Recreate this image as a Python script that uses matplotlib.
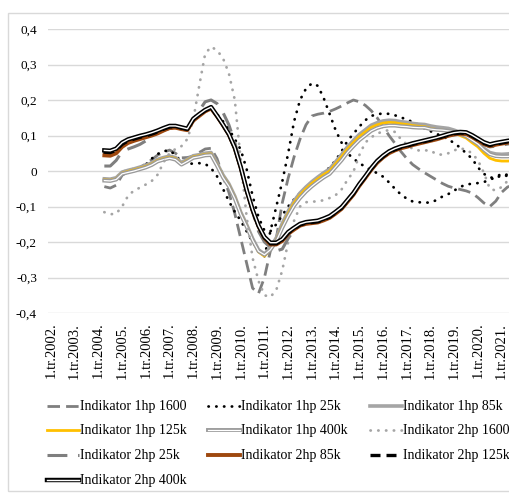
import matplotlib
matplotlib.use("Agg")
import matplotlib.pyplot as plt
from matplotlib.lines import Line2D
from matplotlib.patches import Rectangle

plt.rcParams['font.family'] = ['Liberation Serif', 'DejaVu Serif']

W, H = 510, 494

# quarterly categories 1.tr.2002 .. 3.tr.2021, series start in 2.tr.2004
years = list(range(2002, 2022))
n_quarters = 79
first_obs = 9
tick_labels = [f"1.tr.{y}." for y in years]

ind_1hp_1600 = [
    -0.044, -0.048, -0.040, -0.012, -0.002, 0.004, 0.010, 0.020, 0.032, 0.045,
    0.053, 0.059, 0.050, 0.037, 0.038, 0.042, 0.052, 0.062, 0.064, 0.035,
    -0.015, -0.060, -0.120, -0.190, -0.260, -0.330, -0.345, -0.300, -0.225, -0.190,
    -0.090, -0.020, 0.040, 0.090, 0.130, 0.155, 0.160, 0.163, 0.168, 0.175,
    0.183, 0.192, 0.200, 0.195, 0.185, 0.170, 0.150, 0.125, 0.100, 0.078,
    0.055, 0.035, 0.018, 0.006, -0.005, -0.015, -0.025, -0.035, -0.043, -0.048,
    -0.052, -0.056, -0.062, -0.075, -0.090, -0.100, -0.085, -0.060, -0.045, -0.040]
ind_1hp_25k = [
    -0.022, -0.024, -0.020, -0.003, 0.002, 0.006, 0.010, 0.018, 0.035, 0.048,
    0.056, 0.058, 0.045, 0.025, 0.020, 0.021, 0.022, 0.020, 0.008, -0.015,
    -0.050, -0.085, -0.115, -0.140, -0.170, -0.200, -0.222, -0.240, -0.170, -0.100,
    -0.030, 0.050, 0.140, 0.200, 0.232, 0.247, 0.240, 0.205, 0.160, 0.115,
    0.080, 0.050, 0.035, 0.022, 0.012, 0.002, -0.006, -0.016, -0.032, -0.050,
    -0.066, -0.078, -0.086, -0.088, -0.089, -0.089, -0.082, -0.072, -0.065, -0.055,
    -0.045, -0.038, -0.036, -0.034, -0.031, -0.025, -0.017, -0.008, -0.015, -0.030]
ind_1hp_25k_b = [
    0.050, 0.049, 0.055, 0.072, 0.082, 0.087, 0.092, 0.096, 0.101, 0.107,
    0.115, 0.121, 0.122, 0.118, 0.114, 0.140, 0.155, 0.168, 0.176, 0.160,
    0.140, 0.118, 0.090, 0.060, 0.005, -0.070, -0.130, -0.168, -0.170, -0.150,
    -0.125, -0.100, -0.080, -0.062, -0.048, -0.035, -0.020, -0.005, 0.010, 0.030,
    0.055, 0.085, 0.105, 0.125, 0.143, 0.155, 0.160, 0.162, 0.161, 0.157,
    0.151, 0.145, 0.138, 0.130, 0.120, 0.112, 0.105, 0.097, 0.090, 0.078,
    0.066, 0.050, 0.035, 0.010, -0.008, -0.018, -0.020, -0.012, -0.010, -0.030]
ind_1hp_85k = [
    -0.022, -0.023, -0.019, -0.003, 0.002, 0.006, 0.011, 0.016, 0.023, 0.033,
    0.038, 0.042, 0.038, 0.024, 0.033, 0.043, 0.046, 0.050, 0.052, 0.022,
    -0.011, -0.036, -0.071, -0.116, -0.151, -0.190, -0.222, -0.234, -0.216, -0.188,
    -0.148, -0.113, -0.084, -0.062, -0.045, -0.030, -0.017, -0.005, 0.006, 0.026,
    0.046, 0.068, 0.086, 0.103, 0.116, 0.129, 0.136, 0.141, 0.143, 0.142,
    0.139, 0.137, 0.134, 0.132, 0.131, 0.127, 0.124, 0.122, 0.120, 0.115,
    0.109, 0.103, 0.091, 0.080, 0.064, 0.052, 0.048, 0.047, 0.048, 0.050]
ind_1hp_125k = [
    -0.025, -0.026, -0.022, -0.006, -0.001, 0.003, 0.008, 0.013, 0.020, 0.030,
    0.035, 0.039, 0.035, 0.020, 0.030, 0.040, 0.043, 0.047, 0.048, 0.018,
    -0.015, -0.040, -0.075, -0.120, -0.155, -0.195, -0.228, -0.240, -0.222, -0.195,
    -0.155, -0.120, -0.090, -0.068, -0.050, -0.035, -0.022, -0.010, 0.000, 0.020,
    0.040, 0.062, 0.080, 0.097, 0.110, 0.123, 0.130, 0.135, 0.137, 0.136,
    0.133, 0.131, 0.128, 0.126, 0.125, 0.120, 0.117, 0.115, 0.112, 0.107,
    0.100, 0.093, 0.080, 0.068, 0.050, 0.036, 0.030, 0.028, 0.028, 0.029]
ind_1hp_400k = [
    -0.027, -0.028, -0.024, -0.008, -0.004, 0.000, 0.005, 0.010, 0.017, 0.027,
    0.032, 0.036, 0.032, 0.018, 0.027, 0.037, 0.040, 0.044, 0.045, 0.015,
    -0.018, -0.043, -0.078, -0.122, -0.157, -0.195, -0.226, -0.236, -0.222, -0.198,
    -0.160, -0.127, -0.098, -0.076, -0.058, -0.043, -0.030, -0.018, -0.008, 0.011,
    0.030, 0.052, 0.070, 0.087, 0.100, 0.113, 0.121, 0.126, 0.128, 0.128,
    0.126, 0.125, 0.123, 0.122, 0.122, 0.118, 0.116, 0.115, 0.113, 0.110,
    0.104, 0.098, 0.087, 0.076, 0.060, 0.047, 0.042, 0.041, 0.041, 0.042]
ind_2hp_1600 = [
    -0.116, -0.122, -0.120, -0.100, -0.070, -0.055, -0.047, -0.038, -0.028, -0.010,
    0.025, 0.050, 0.062, 0.070, 0.090, 0.145, 0.240, 0.330, 0.350, 0.340,
    0.318, 0.275, 0.200, 0.030, -0.130, -0.245, -0.310, -0.350, -0.355, -0.335,
    -0.280, -0.200, -0.140, -0.100, -0.088, -0.086, -0.086, -0.082, -0.076, -0.068,
    -0.052, -0.025, -0.002, 0.045, 0.080, 0.095, 0.105, 0.112, 0.115, 0.110,
    0.090, 0.075, 0.062, 0.058, 0.058, 0.058, 0.047, 0.046, 0.050, 0.058,
    0.064, 0.060, 0.050, 0.030, -0.005, -0.050, -0.055, -0.045, -0.028, -0.020]
ind_2hp_25k = [
    0.014, 0.014, 0.030, 0.055, 0.062, 0.068, 0.075, 0.085, 0.098, 0.108,
    0.115, 0.120, 0.122, 0.118, 0.120, 0.145, 0.170, 0.195, 0.200, 0.190,
    0.165, 0.130, 0.080, 0.020, -0.050, -0.115, -0.170, -0.200, -0.215, -0.225,
    -0.220, -0.190, -0.165, -0.153, -0.147, -0.144, -0.141, -0.135, -0.127, -0.115,
    -0.100, -0.080, -0.060, -0.035, -0.013, 0.010, 0.030, 0.045, 0.056, 0.063,
    0.068, 0.072, 0.076, 0.080, 0.084, 0.088, 0.092, 0.097, 0.100, 0.102,
    0.104, 0.102, 0.095, 0.085, 0.075, 0.068, 0.070, 0.073, 0.076, 0.078]
ind_2hp_85k = [
    0.044, 0.043, 0.050, 0.068, 0.079, 0.085, 0.090, 0.095, 0.100, 0.106,
    0.114, 0.121, 0.122, 0.118, 0.115, 0.142, 0.155, 0.168, 0.176, 0.154,
    0.129, 0.102, 0.064, 0.009, -0.056, -0.111, -0.156, -0.189, -0.207, -0.207,
    -0.197, -0.177, -0.165, -0.154, -0.149, -0.147, -0.145, -0.139, -0.132, -0.120,
    -0.107, -0.087, -0.067, -0.042, -0.020, 0.003, 0.023, 0.038, 0.050, 0.058,
    0.064, 0.068, 0.073, 0.077, 0.081, 0.085, 0.089, 0.094, 0.099, 0.103,
    0.105, 0.104, 0.096, 0.086, 0.076, 0.070, 0.074, 0.077, 0.080, 0.082]
ind_2hp_125k = [
    0.053, 0.052, 0.058, 0.075, 0.085, 0.090, 0.095, 0.099, 0.104, 0.110,
    0.118, 0.124, 0.125, 0.121, 0.117, 0.145, 0.158, 0.170, 0.178, 0.155,
    0.130, 0.103, 0.065, 0.010, -0.055, -0.110, -0.155, -0.188, -0.205, -0.205,
    -0.195, -0.175, -0.163, -0.152, -0.147, -0.145, -0.143, -0.137, -0.130, -0.118,
    -0.105, -0.085, -0.065, -0.040, -0.018, 0.005, 0.025, 0.040, 0.052, 0.060,
    0.066, 0.070, 0.075, 0.079, 0.083, 0.087, 0.091, 0.096, 0.101, 0.105,
    0.107, 0.106, 0.098, 0.088, 0.078, 0.072, 0.076, 0.079, 0.082, 0.084]
ind_2hp_400k = [
    0.058, 0.057, 0.063, 0.080, 0.089, 0.094, 0.099, 0.103, 0.108, 0.114,
    0.121, 0.127, 0.127, 0.123, 0.119, 0.147, 0.160, 0.172, 0.180, 0.156,
    0.131, 0.104, 0.066, 0.011, -0.054, -0.109, -0.154, -0.186, -0.202, -0.202,
    -0.192, -0.172, -0.160, -0.149, -0.144, -0.142, -0.140, -0.134, -0.127, -0.115,
    -0.102, -0.082, -0.062, -0.037, -0.015, 0.008, 0.028, 0.043, 0.055, 0.063,
    0.069, 0.073, 0.078, 0.082, 0.086, 0.090, 0.094, 0.099, 0.104, 0.108,
    0.110, 0.109, 0.101, 0.091, 0.081, 0.075, 0.079, 0.082, 0.085, 0.087]

DOT = (0, (0.1, 2.7))
DASH = (0, (4.5, 2.2))
LONG_DASH = (0, (6.5, 3.5))
SHORT_DASH = (0, (3, 1.8))

# (label, values, colour, width, style, double line)
series = [
    ("Indikator 1hp 1600", ind_1hp_1600, "#7f7f7f", 2.0, DASH, False),
    ("Indikator 1hp 25k", ind_1hp_25k, "black", 2.0, DOT, False),
    (None, ind_1hp_25k_b, "black", 2.0, DOT, False),
    ("Indikator 1hp 85k", ind_1hp_85k, "#a5a5a5", 2.6, "-", False),
    ("Indikator 1hp 125k", ind_1hp_125k, "#ffc000", 2.0, "-", False),
    ("Indikator 1hp 400k", ind_1hp_400k, "#9a9a9a", 2.8, "-", True),
    ("Indikator 2hp 1600", ind_2hp_1600, "#a5a5a5", 2.0, DOT, False),
    ("Indikator 2hp 25k", ind_2hp_25k, "#7f7f7f", 2.2, LONG_DASH, False),
    ("Indikator 2hp 85k", ind_2hp_85k, "#9e480e", 2.8, "-", False),
    ("Indikator 2hp 125k", ind_2hp_125k, "black", 2.4, SHORT_DASH, False),
    ("Indikator 2hp 400k", ind_2hp_400k, "black", 3.2, "-", True),
]


def draw(target, xs, ys, color, lw, ls, double, **kw):
    cap = "round" if ls is DOT else "butt"
    target(xs, ys, color=color, lw=lw, linestyle=ls, dash_capstyle=cap,
           solid_joinstyle="round", **kw)
    if double:
        target(xs, ys, color="white", lw=lw * 0.32, solid_joinstyle="round", **kw)


fig = plt.figure(figsize=(W / 100, H / 100), dpi=100)
fig.add_artist(Rectangle((8 / W, 1 - 491 / H), 520 / W, 478 / H, transform=fig.transFigure,
                         facecolor="none", edgecolor="#d9d9d9", lw=1.0))

ax = fig.add_axes([48 / W, 1 - 313 / H, 468.5 / W, 284 / H])
xs = list(range(first_obs, n_quarters))
for label, vals, color, lw, ls, double in series:
    draw(ax.plot, xs, vals, color, lw, ls, double)

ax.set_xlim(-0.5, n_quarters - 0.5)
ax.set_ylim(-0.4, 0.4)
yticks = [-0.4, -0.3, -0.2, -0.1, 0.0, 0.1, 0.2, 0.3, 0.4]
ax.set_yticks(yticks)
ax.set_yticklabels(["0" if v == 0 else f"{v:.1f}".replace(".", ",") for v in yticks],
                   fontsize=9.5)
ax.set_xticks(range(0, n_quarters, 4))
ax.set_xticklabels(tick_labels, rotation=90, fontsize=10.5)
ax.tick_params(length=0)
ax.tick_params(axis="y", pad=8)
ax.tick_params(axis="x", pad=7)
ax.grid(axis="y", color="#d9d9d9", lw=1.0)
ax.set_axisbelow(True)
for s in ax.spines.values():
    s.set_visible(False)

# legend laid out row by row in three columns
col_x = [47, 208, 370]
row_y = [406, 430, 455, 480]
entries = [s for s in series if s[0] is not None]
for k, (label, vals, color, lw, ls, double) in enumerate(entries):
    x0 = col_x[k % 3]
    y0 = 1 - row_y[k // 3] / H
    hx = [x0 / W, (x0 + 32) / W]
    draw(lambda a, b, **kw: fig.add_artist(Line2D(a, b, transform=fig.transFigure, **kw)),
         hx, [y0, y0], color, lw, ls, double)
    fig.text((x0 + 33) / W, y0, label, fontsize=10, va="center", ha="left")

fig.savefig("out.png", dpi=100)
